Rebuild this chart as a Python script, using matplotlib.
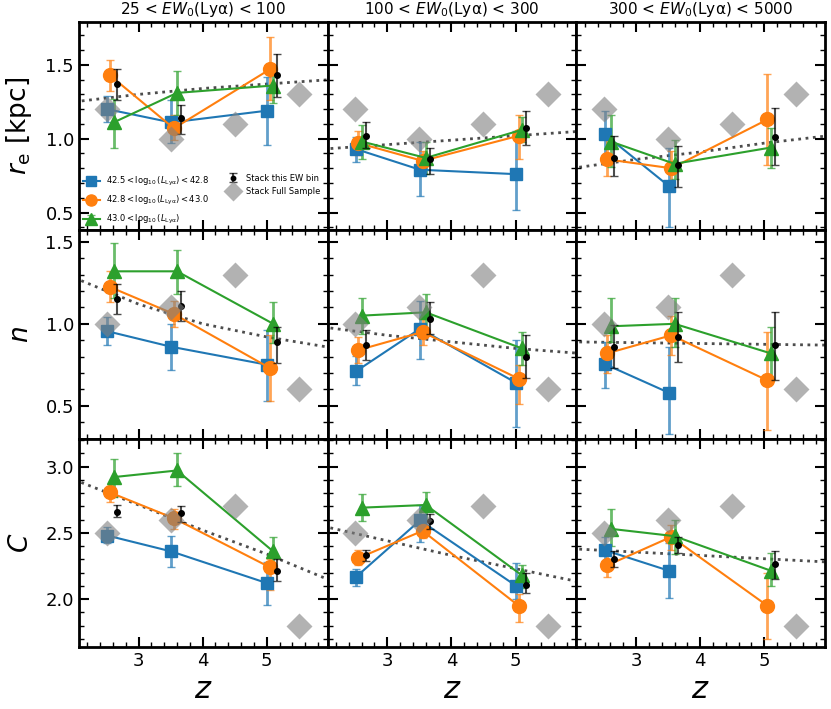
# Size / Sersic index / concentration vs redshift, split by EW and Lya luminosity
import numpy as np
import matplotlib.pyplot as plt
from matplotlib.ticker import MultipleLocator

# %%
# redshift of each luminosity bin (slightly offset for clarity)
z_blue = [2.51, 3.51, 5.01]
z_orange = [2.55, 3.55, 5.05]
z_green = [2.61, 3.60, 5.10]
z_black = [2.66, 3.66, 5.16]
z_full = [2.5, 3.5, 4.5, 5.5]
z_fit = [2.0, 3.0, 4.0, 5.0, 6.0]

ew_titles = ['25 < $EW_0$(Lyα) < 100', '100 < $EW_0$(Lyα) < 300',
             '300 < $EW_0$(Lyα) < 5000']
row_labels = [r'$r_{\rm e}$ [kpc]', '$n$', '$C$']
lum_labels = [r'$42.5 < \log_{10}(L_{\rm Ly\alpha}) < 42.8$',
              r'$42.8 < \log_{10}(L_{\rm Ly\alpha}) < 43.0$',
              r'$43.0 < \log_{10}(L_{\rm Ly\alpha})$']

# ---- r_e  [column][point] = value, lower, upper
re_blue = [[1.20, 1.11, 1.19], [0.93, 0.79, 0.76], [1.03, 0.68, np.nan]]
re_blue_lo = [[1.11, 0.97, 0.955], [0.845, 0.61, 0.52], [0.86, 0.40, np.nan]]
re_blue_hi = [[1.29, 1.26, 1.42], [1.01, 0.98, 1.05], [1.19, 0.94, np.nan]]
re_orange = [[1.43, 1.07, 1.47], [0.97, 0.85, 1.02], [0.86, 0.80, 1.13]]
re_orange_lo = [[1.32, 0.99, 1.26], [0.89, 0.77, 0.86], [0.75, 0.68, 0.82]]
re_orange_hi = [[1.53, 1.16, 1.69], [1.05, 0.92, 1.16], [1.00, 0.92, 1.44]]
re_green = [[1.11, 1.31, 1.36], [0.98, 0.87, 1.06], [0.98, 0.83, 0.94]]
re_green_lo = [[0.94, 1.16, 1.24], [0.86, 0.76, 0.98], [0.81, 0.73, 0.80]]
re_green_hi = [[1.27, 1.46, 1.43], [1.09, 0.98, 1.15], [1.16, 0.99, 1.07]]
re_black = [[1.37, 1.14, 1.43], [1.02, 0.86, 1.07], [0.87, 0.82, 1.01]]
re_black_lo = [[1.26, 1.03, 1.28], [0.94, 0.76, 0.96], [0.75, 0.67, 0.82]]
re_black_hi = [[1.47, 1.23, 1.57], [1.11, 0.94, 1.19], [1.02, 0.95, 1.21]]
re_full = [1.2, 1.0, 1.1, 1.3]
re_fit = [[1.25, 1.30, 1.34, 1.37, 1.40], [0.93, 0.96, 0.99, 1.02, 1.05],
          [0.80, 0.86, 0.91, 0.97, 1.02]]

# ---- Sersic n
n_blue = [[0.955, 0.86, 0.75], [0.71, 0.97, 0.64], [0.755, 0.58, np.nan]]
n_blue_lo = [[0.87, 0.72, 0.53], [0.625, 0.785, 0.37], [0.61, 0.33, np.nan]]
n_blue_hi = [[1.04, 1.00, 0.96], [0.805, 1.14, 0.90], [0.89, 0.86, np.nan]]
n_orange = [[1.225, 1.06, 0.73], [0.84, 0.95, 0.665], [0.82, 0.93, 0.655]]
n_orange_lo = [[1.13, 0.98, 0.53], [0.76, 0.87, 0.51], [0.70, 0.81, 0.35]]
n_orange_hi = [[1.32, 1.14, 0.93], [0.92, 1.03, 0.75], [0.93, 1.05, 0.95]]
n_green = [[1.32, 1.32, 1.00], [1.05, 1.07, 0.85], [0.985, 1.00, 0.82]]
n_green_lo = [[1.16, 1.18, 0.88], [0.94, 0.96, 0.75], [0.89, 0.86, 0.66]]
n_green_hi = [[1.49, 1.45, 1.13], [1.16, 1.18, 0.95], [1.16, 1.16, 0.98]]
n_black = [[1.15, 1.11, 0.89], [0.87, 1.03, 0.80], [0.86, 0.92, 0.87]]
n_black_lo = [[1.06, 1.02, 0.76], [0.78, 0.94, 0.67], [0.73, 0.77, 0.66]]
n_black_hi = [[1.24, 1.20, 0.98], [0.96, 1.13, 0.93], [0.99, 1.07, 1.07]]
n_full = [1.0, 1.1, 1.3, 0.6]
n_fit = [[1.28, 1.12, 1.00, 0.92, 0.855], [0.98, 0.93, 0.89, 0.85, 0.82],
         [0.89, 0.885, 0.88, 0.875, 0.87]]

# ---- concentration C
c_blue = [[2.48, 2.36, 2.12], [2.167, 2.594, 2.10], [2.37, 2.215, np.nan]]
c_blue_lo = [[2.42, 2.24, 1.96], [2.10, 2.43, 2.00], [2.28, 2.01, np.nan]]
c_blue_hi = [[2.545, 2.48, 2.28], [2.23, 2.71, 2.27], [2.47, 2.42, np.nan]]
c_orange = [[2.805, 2.61, 2.24], [2.31, 2.515, 1.95], [2.255, 2.47, 1.95]]
c_orange_lo = [[2.735, 2.53, 2.07], [2.26, 2.46, 1.83], [2.17, 2.37, 1.70]]
c_orange_hi = [[2.855, 2.68, 2.30], [2.37, 2.58, 2.04], [2.36, 2.56, 2.20]]
c_green = [[2.92, 2.97, 2.36], [2.69, 2.71, 2.18], [2.53, 2.475, 2.215]]
c_green_lo = [[2.77, 2.85, 2.26], [2.59, 2.59, 2.085], [2.40, 2.34, 2.10]]
c_green_hi = [[3.06, 3.10, 2.47], [2.79, 2.81, 2.26], [2.68, 2.60, 2.35]]
c_black = [[2.66, 2.65, 2.21], [2.33, 2.59, 2.105], [2.30, 2.41, 2.265]]
c_black_lo = [[2.62, 2.58, 2.135], [2.29, 2.53, 2.05], [2.24, 2.35, 2.15]]
c_black_hi = [[2.71, 2.70, 2.30], [2.37, 2.64, 2.20], [2.36, 2.47, 2.36]]
c_full = [2.5, 2.6, 2.7, 1.8]
c_fit = [[2.90, 2.71, 2.52, 2.34, 2.14], [2.55, 2.44, 2.33, 2.23, 2.13],
         [2.38, 2.355, 2.33, 2.305, 2.28]]

# %%
rows = [
    dict(b=(re_blue, re_blue_lo, re_blue_hi), o=(re_orange, re_orange_lo, re_orange_hi),
         g=(re_green, re_green_lo, re_green_hi), k=(re_black, re_black_lo, re_black_hi),
         full=re_full, fit=re_fit, ylim=(0.38, 1.79)),
    dict(b=(n_blue, n_blue_lo, n_blue_hi), o=(n_orange, n_orange_lo, n_orange_hi),
         g=(n_green, n_green_lo, n_green_hi), k=(n_black, n_black_lo, n_black_hi),
         full=n_full, fit=n_fit, ylim=(0.30, 1.57)),
    dict(b=(c_blue, c_blue_lo, c_blue_hi), o=(c_orange, c_orange_lo, c_orange_hi),
         g=(c_green, c_green_lo, c_green_hi), k=(c_black, c_black_lo, c_black_hi),
         full=c_full, fit=c_fit, ylim=(1.64, 3.21)),
]


def errbar(ax, z, val, lo, hi, **kw):
    val = np.array(val)
    ok = ~np.isnan(val)
    z = np.array(z)[ok]
    v = val[ok]
    yerr = [v - np.array(lo)[ok], np.array(hi)[ok] - v]
    eb = ax.errorbar(z, v, yerr=yerr, capsize=3, **kw)
    for c in eb[2]:
        c.set_alpha(0.7)
    for c in eb[1]:
        c.set_alpha(0.7)
    return eb


fig, axes = plt.subplots(3, 3, figsize=(8.31, 7.09), dpi=100)
fig.subplots_adjust(left=0.095, right=0.993, top=0.969, bottom=0.0875,
                    wspace=0, hspace=0)

for i, r in enumerate(rows):
    for j in range(3):
        ax = axes[i, j]
        ax.plot(z_fit, r['fit'][j], ':', color='0.3', lw=2, zorder=1)
        hb = errbar(ax, z_blue, r['b'][0][j], r['b'][1][j], r['b'][2][j],
                    fmt='s-', color='C0', ms=9, lw=1.5, elinewidth=2, zorder=3)
        ho = errbar(ax, z_orange, r['o'][0][j], r['o'][1][j], r['o'][2][j],
                    fmt='o-', color='C1', ms=10, lw=1.5, elinewidth=2, zorder=3)
        hg = errbar(ax, z_green, r['g'][0][j], r['g'][1][j], r['g'][2][j],
                    fmt='^-', color='C2', ms=10, lw=1.5, elinewidth=2, zorder=3)
        hk = errbar(ax, z_black, r['k'][0][j], r['k'][1][j], r['k'][2][j],
                    fmt='o', color='k', ms=4, elinewidth=1.5, zorder=4)
        hf, = ax.plot(z_full, r['full'], 'D', color='gray', ms=13, alpha=0.6,
                      mec='none', zorder=5)

        ax.set_xlim(2.07, 5.95)
        ax.set_ylim(*r['ylim'])
        ax.xaxis.set_major_locator(MultipleLocator(1))
        ax.xaxis.set_minor_locator(MultipleLocator(0.2))
        ax.yaxis.set_major_locator(MultipleLocator(0.5))
        ax.yaxis.set_minor_locator(MultipleLocator(0.1))
        ax.tick_params(which='both', direction='in', top=True, right=True,
                       labelsize=13)
        ax.tick_params(which='major', length=7, width=1.5)
        ax.tick_params(which='minor', length=3.5, width=1)
        for s in ax.spines.values():
            s.set_linewidth(2)
        if j > 0:
            ax.tick_params(labelleft=False)
        else:
            ax.set_ylabel(row_labels[i], fontsize=19)
        if i < 2:
            ax.tick_params(labelbottom=False)
        else:
            ax.set_xlabel('$z$', fontsize=22)
        if i == 0:
            ax.set_title(ew_titles[j], fontsize=11)

        if i == 0 and j == 0:
            leg1 = ax.legend([hb, ho, hg], lum_labels, loc='lower left',
                             fontsize=6, frameon=False, handlelength=2,
                             borderaxespad=0.1, labelspacing=0.7,
                             markerscale=0.8)
            ax.legend([hk, hf], ['Stack this EW bin', 'Stack Full Sample'],
                      loc='lower right', fontsize=6, frameon=False,
                      bbox_to_anchor=(1.0, 0.13), handlelength=1.5,
                      markerscale=0.8)
            ax.add_artist(leg1)

for ax in axes[:, 0]:
    ax.yaxis.set_label_coords(-0.18, 0.5)

fig.savefig('out.png', dpi=100)
